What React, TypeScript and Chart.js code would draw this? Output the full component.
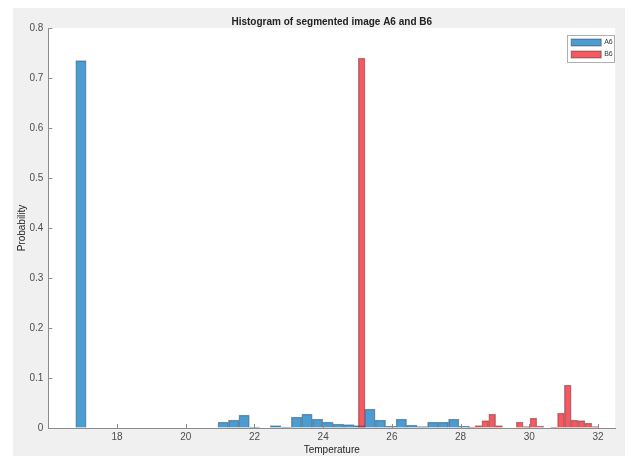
import React, { useEffect, useRef } from 'react';
import { Chart, registerables } from 'chart.js';

Chart.register(...registerables);

const titleText = 'Histogram of segmented image A6 and B6';
const xTitle = 'Temperature';
const yTitle = 'Probability';
const seriesLabels = ['A6', 'B6'];
const xTickValues = [18, 20, 22, 24, 26, 28, 30, 32];
const yTickValues = [0, 0.1, 0.2, 0.3, 0.4, 0.5, 0.6, 0.7, 0.8];
const xMin = 16;
const xMax = 32.5;
const yMin = 0;
const yMax = 0.8;

// A6 histogram: bin centers and probabilities
const a6Centers = [16.95, 20.785, 21.09, 21.395, 21.7, 22.005, 22.31, 22.615, 22.92, 23.225, 23.53, 23.835, 24.14, 24.445, 24.75, 25.055, 25.36, 25.665, 25.97, 26.275, 26.58, 26.885, 27.19, 27.495, 27.8, 28.105];
const a6Values = [0.735, 0.001, 0.012, 0.016, 0.026, 0.002, 0.001, 0.005, 0.002, 0.022, 0.028, 0.018, 0.012, 0.008, 0.007, 0.005, 0.038, 0.016, 0.004, 0.018, 0.006, 0.003, 0.012, 0.012, 0.018, 0.004];

// B6 histogram: bin centers and probabilities
const b6Centers = [25.12, 28.32, 28.52, 28.72, 28.92, 29.12, 29.32, 29.52, 29.72, 29.92, 30.12, 30.32, 30.52, 30.72, 30.92, 31.12, 31.32, 31.52, 31.72, 31.92];
const b6Values = [0.74, 0.002, 0.005, 0.015, 0.028, 0.005, 0.001, 0.001, 0.012, 0.003, 0.02, 0.004, 0.001, 0.002, 0.03, 0.086, 0.016, 0.015, 0.01, 0.003];

const FONT = "'Liberation Sans', Arial, Helvetica, sans-serif";
const AXIS_COLOR = '#8c8c8c';
const BLUE = 'rgba(0,114,189,0.7)';
const RED = 'rgba(240,20,30,0.7)';
const EDGE = 'rgba(40,40,40,0.45)';

const plotBg = {
  id: 'plotBg',
  beforeDraw(chart: any) {
    const { ctx, chartArea } = chart;
    ctx.save();
    ctx.fillStyle = '#ffffff';
    ctx.fillRect(chartArea.left, chartArea.top, chartArea.right - chartArea.left, chartArea.bottom - chartArea.top);
    ctx.restore();
  },
};

const innerTicks = {
  id: 'innerTicks',
  afterDraw(chart: any) {
    const { ctx, chartArea, scales } = chart;
    ctx.save();
    ctx.strokeStyle = AXIS_COLOR;
    ctx.lineWidth = 1;
    ctx.beginPath();
    scales.x.ticks.forEach((t: any) => {
      const px = Math.round(scales.x.getPixelForValue(t.value)) + 0.5;
      ctx.moveTo(px, chartArea.bottom);
      ctx.lineTo(px, chartArea.bottom - 4);
    });
    scales.y.ticks.forEach((t: any) => {
      const py = Math.round(scales.y.getPixelForValue(t.value)) + 0.5;
      ctx.moveTo(chartArea.left, py);
      ctx.lineTo(chartArea.left + 4, py);
    });
    ctx.stroke();
    ctx.restore();
  },
};

const boxLegend = {
  id: 'boxLegend',
  afterDraw(chart: any) {
    const { ctx, chartArea } = chart;
    const w = 47;
    const h = 27;
    const left = chartArea.right - w - 1;
    const top = chartArea.top + 7;
    ctx.save();
    ctx.fillStyle = '#ffffff';
    ctx.fillRect(left, top, w, h);
    ctx.strokeStyle = '#b0b0b0';
    ctx.lineWidth = 1;
    ctx.strokeRect(Math.round(left) + 0.5, Math.round(top) + 0.5, w, h);
    ctx.font = `7px ${FONT}`;
    ctx.textBaseline = 'middle';
    ctx.textAlign = 'left';
    chart.data.datasets.forEach((ds: any, i: number) => {
      const y = top + 4 + i * 12;
      ctx.fillStyle = ds.backgroundColor;
      ctx.fillRect(left + 4, y, 30, 7);
      ctx.strokeStyle = EDGE;
      ctx.strokeRect(left + 4, y, 30, 7);
      ctx.fillStyle = '#333333';
      ctx.fillText(ds.label, left + 37, y + 3.5);
    });
    ctx.restore();
  },
};

export default function App() {
  const canvasRef = useRef<HTMLCanvasElement | null>(null);

  useEffect(() => {
    if (!canvasRef.current) return;
    const chart = new Chart(canvasRef.current, {
      type: 'bar',
      data: {
        datasets: [
          {
            label: seriesLabels[0],
            data: a6Centers.map((c, i) => ({ x: c, y: a6Values[i] })),
            backgroundColor: BLUE,
            borderColor: EDGE,
            borderWidth: 0.8,
            barPercentage: 1,
            categoryPercentage: 1,
            grouped: false,
            xAxisID: 'x',
            order: 1,
          } as any,
          {
            label: seriesLabels[1],
            data: b6Centers.map((c, i) => ({ x: c, y: b6Values[i] })),
            backgroundColor: RED,
            borderColor: EDGE,
            borderWidth: 0.8,
            barPercentage: 1,
            categoryPercentage: 1,
            grouped: false,
            xAxisID: 'x2',
            order: 0,
          } as any,
        ],
      },
      options: {
        responsive: false,
        animation: false,
        devicePixelRatio: 1,
        layout: { padding: { left: 0, right: 9.8, top: 0, bottom: 0 } },
        plugins: {
          legend: { display: false },
          tooltip: { enabled: false },
          title: {
            display: true,
            text: titleText,
            fullSize: false,
            color: '#222222',
            font: { family: FONT, size: 10, weight: 'bold' },
            padding: { top: 8, bottom: 0 },
          },
        },
        scales: {
          x: {
            type: 'linear',
            offset: false,
            min: xMin,
            max: xMax,
            afterBuildTicks: (scale: any) => {
              scale.ticks = xTickValues.map((v) => ({ value: v }));
            },
            afterFit: (scale: any) => {
              scale.height = 28;
            },
            ticks: {
              color: '#4d4d4d',
              font: { family: FONT, size: 10 },
              padding: 3,
              maxRotation: 0,
              autoSkip: false,
            },
            grid: { display: true, drawOnChartArea: false, drawTicks: false, offset: false },
            border: { display: true, color: AXIS_COLOR, width: 1 },
            title: {
              display: true,
              text: xTitle,
              color: '#262626',
              font: { family: FONT, size: 10 },
              padding: { top: 0, bottom: 0 },
            },
          },
          x2: {
            type: 'linear',
            offset: false,
            min: xMin,
            max: xMax,
            display: false,
            grid: { offset: false },
          },
          y: {
            type: 'linear',
            min: yMin,
            max: yMax,
            afterBuildTicks: (scale: any) => {
              scale.ticks = yTickValues.map((v) => ({ value: v }));
            },
            afterFit: (scale: any) => {
              scale.width = 35.3;
            },
            ticks: {
              color: '#4d4d4d',
              font: { family: FONT, size: 10 },
              padding: 5,
              callback: (v: any) => String(Math.round(Number(v) * 10) / 10),
            },
            grid: { display: true, drawOnChartArea: false, drawTicks: false },
            border: { display: true, color: AXIS_COLOR, width: 1 },
            title: {
              display: true,
              text: yTitle,
              color: '#262626',
              font: { family: FONT, size: 10 },
              padding: { top: 3, bottom: 0 },
            },
          },
        },
      } as any,
      plugins: [plotBg, innerTicks, boxLegend],
    });
    return () => chart.destroy();
  }, []);

  return (
    <div style={{ position: 'fixed', left: 0, top: 0, width: 635, height: 464, background: '#ffffff' }}>
      <canvas
        ref={canvasRef}
        width={612}
        height={448}
        style={{ position: 'absolute', left: 13, top: 8, width: 612, height: 448, background: '#f0f0f0' }}
      />
    </div>
  );
}
